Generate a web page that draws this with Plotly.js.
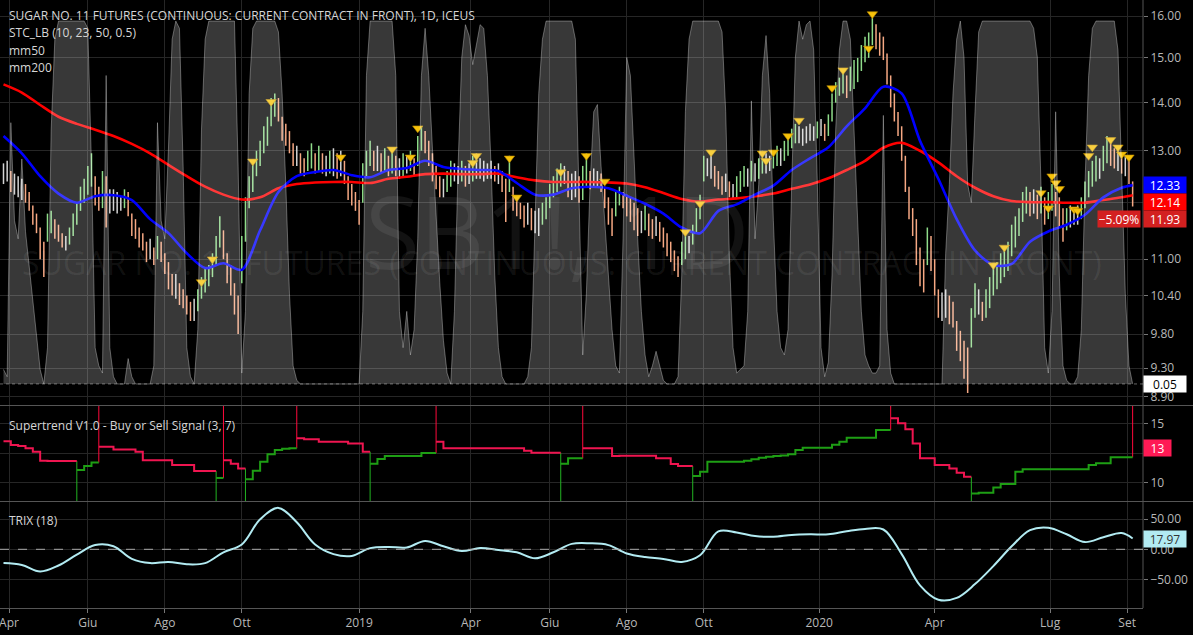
<!DOCTYPE html>
<html><head><meta charset="utf-8">
<script src="https://cdn.plot.ly/plotly-3.0.1.min.js"></script>
<style>html,body{margin:0;padding:0;background:#000;}#chart{width:1193px;height:635px;}</style>
</head><body><div id="chart"></div>
<script>
// ---------- DATA ----------
const tickLabels = ["Apr","Giu","Ago","Ott","2019","Apr","Giu","Ago","Ott","2020","Apr","Lug","Set"];
const tickDays   = [0,43,85,127,191,252,295,337,379,442,505,568,610]; // trading-day index of month starts
const barStartDay = -3, barStepDays = 2;   // one bar per two trading days

const hi = [
12.75,12.8,12.6,12.55,12.5,12.45,12.35,12.2,11.95,11.8,
11.55,11.3,11.8,11.85,11.7,11.6,11.45,11.4,11.55,11.8,
12.0,12.3,12.45,12.7,12.95,12.5,12.3,12.6,12.5,12.25,
12.25,12.2,12.1,12.25,12.2,11.8,11.7,11.55,11.45,11.3,
11.35,11.2,11.4,11.3,11.1,10.95,10.75,10.75,10.6,10.5,
10.4,10.3,10.35,10.5,10.7,10.85,10.9,11.1,11.4,11.75,
11.5,11.1,10.9,10.6,10.4,11.4,12.1,12.5,12.8,13.0,
13.2,13.5,13.7,14.1,14.2,14.1,13.7,13.55,13.4,13.15,
13.1,12.95,12.85,13.0,13.15,12.95,13.1,12.95,12.9,13.0,
13.05,12.95,13.0,12.8,12.5,12.35,12.2,12.05,12.75,13.0,
13.2,13.0,13.1,12.95,13.05,12.9,13.0,12.9,12.85,12.95,
12.9,13.0,12.85,13.3,13.5,13.4,13.2,12.95,12.7,12.5,
12.45,12.6,12.8,12.75,12.7,12.8,12.7,12.75,12.9,12.95,
12.85,12.8,12.75,12.8,12.7,12.75,12.6,12.45,12.9,12.3,
12.1,12.0,11.95,12.0,11.9,11.85,11.9,12.0,12.1,12.35,
12.5,12.65,12.75,12.7,12.6,12.55,12.6,12.5,12.7,12.95,
12.6,12.65,12.6,12.55,12.3,12.1,11.9,12.2,12.3,12.2,
12.15,12.1,12.0,11.9,11.85,11.95,11.8,11.7,11.75,11.65,
11.55,11.45,11.3,11.15,11.05,11.3,11.5,11.4,11.6,11.9,
12.15,12.9,12.85,12.9,12.7,12.6,12.5,12.55,12.4,12.35,
12.5,12.6,12.7,12.65,12.8,12.75,12.85,13.0,12.95,12.9,
13.0,13.1,13.05,13.2,13.3,13.45,13.55,13.5,13.45,13.5,
13.55,13.5,13.6,13.65,13.55,13.75,14.2,14.45,14.55,14.7,
14.6,14.8,14.95,15.0,15.3,15.5,15.6,15.95,15.8,15.6,
15.5,15.1,14.6,14.2,13.8,13.5,12.9,12.3,11.9,11.7,
11.2,11.0,11.55,11.4,11.0,10.5,10.45,10.5,10.4,10.3,
10.0,9.85,9.7,9.6,10.2,10.6,10.5,10.3,10.5,10.7,
10.9,10.95,11.1,11.15,11.3,11.6,11.75,11.9,12.2,12.3,
12.2,12.25,12.15,12.3,12.1,12.2,12.35,12.2,12.1,11.9,
11.9,11.95,11.9,11.95,12.1,12.4,12.6,12.8,12.9,12.85,
13.1,13.3,13.2,13.05,13.1,12.95,12.9,12.8,12.4];
const lo = [
12.35,12.4,12.2,12.15,12.1,12.05,12.0,11.85,11.6,11.45,
11.0,10.7,11.3,11.45,11.35,11.3,11.2,11.15,11.25,11.4,
11.6,11.85,12.0,12.15,12.3,11.95,11.85,11.9,11.55,11.8,
11.85,11.8,11.85,11.9,11.75,11.4,11.35,11.2,11.15,10.95,
11.0,10.9,11.0,10.95,10.75,10.5,10.4,10.35,10.25,10.2,
10.1,10.0,10.0,10.15,10.35,10.45,10.55,10.7,10.9,11.2,
11.0,10.6,10.4,10.1,9.8,10.6,11.3,11.9,12.2,12.5,
12.7,12.95,13.1,13.5,13.7,13.6,13.2,13.1,12.95,12.7,
12.7,12.55,12.5,12.6,12.65,12.55,12.6,12.55,12.5,12.55,
12.5,12.45,12.5,12.35,12.05,11.95,11.85,11.6,12.0,12.5,
12.7,12.6,12.6,12.55,12.6,12.5,12.55,12.5,12.45,12.5,
12.55,12.6,12.5,12.7,13.0,12.95,12.7,12.4,12.25,12.1,
12.1,12.2,12.3,12.4,12.35,12.4,12.3,12.35,12.4,12.45,
12.45,12.4,12.45,12.45,12.4,12.35,12.2,11.65,12.2,11.85,
11.75,11.7,11.55,11.6,11.5,11.45,11.4,11.6,11.7,11.9,
12.1,12.2,12.3,12.35,12.1,12.05,12.1,12.0,12.05,12.3,
12.25,12.3,12.3,12.2,11.9,11.6,11.4,11.75,11.95,11.9,
11.75,11.65,11.5,11.4,11.45,11.5,11.4,11.35,11.4,11.3,
11.2,11.05,10.95,10.8,10.7,10.9,11.0,11.1,11.25,11.45,
11.7,12.4,12.5,12.45,12.3,12.25,12.15,12.2,12.1,12.05,
12.1,12.2,12.3,12.3,12.4,12.4,12.45,12.55,12.55,12.6,
12.65,12.7,12.7,12.8,12.9,13.05,13.15,13.15,13.1,13.15,
13.2,13.2,13.25,13.3,13.2,13.3,13.6,14.0,14.15,14.2,
14.1,14.25,14.3,14.45,14.7,14.9,15.0,15.3,15.2,15.05,
14.95,14.4,13.9,13.6,13.3,12.8,12.2,11.7,11.4,10.9,
10.55,10.45,10.9,10.8,10.4,10.05,10.0,10.05,9.95,9.9,
9.55,9.4,9.15,8.95,9.6,10.05,10.1,10.0,10.05,10.2,
10.4,10.5,10.6,10.7,10.8,11.05,11.2,11.4,11.65,11.8,
11.75,11.8,11.7,11.8,11.6,11.7,11.85,11.75,11.55,11.3,
11.5,11.55,11.6,11.6,11.7,11.9,12.1,12.3,12.4,12.45,
12.6,12.75,12.7,12.65,12.6,12.55,12.5,12.35,11.93];

// STC_LB oscillator, one value per bar
const stc = [
4,2,72,45,40,62,42,32,22,12,
4,0,10,70,95,100,100,100,100,100,
100,100,100,98,60,10,5,3,85,10,
2,0,0,0,7,2,0,0,0,0,
0,5,72,45,40,65,95,100,98,60,
10,2,0,15,70,95,100,100,100,100,
100,100,100,100,60,3,20,80,98,100,
100,100,100,100,100,97,80,55,25,5,
1,0,0,0,0,0,0,0,0,0,
0,0,0,0,0,0,0,0,20,85,
100,100,100,100,100,100,100,85,20,10,
20,8,15,40,85,98,85,65,45,28,
12,3,0,20,60,90,99,96,88,93,
99,98,85,60,30,10,2,0,0,0,
0,0,0,2,10,45,80,95,100,100,
100,100,100,100,100,100,95,50,8,25,
55,75,77,60,45,30,15,5,3,40,
90,85,60,40,20,8,2,5,9,5,
1,0,0,0,2,30,75,95,100,100,
100,100,100,100,100,100,97,75,35,10,
3,4,5,20,78,40,55,85,96,80,
45,20,10,8,15,55,90,100,95,99,
100,92,55,10,2,6,30,70,92,100,
100,95,70,45,20,8,5,3,3,5,
74,15,3,0,0,0,0,0,0,0,
0,0,0,0,0,0,0,36,55,80,
95,100,90,55,50,75,97,100,100,100,
100,100,100,100,100,100,100,100,100,100,
100,98,90,55,10,3,20,75,30,5,
1,0,0,2,15,55,85,98,100,100,
100,100,100,100,92,60,25,5,0.05];

// moving averages and TRIX, sampled every 5 bars (last sample = last bar)
const maStepBars = 5;
const mm50 = [13.3,12.95,12.5,12.17,12.0,12.12,12.14,12.05,11.7,11.45,11.1,10.85,10.93,10.82,11.5,12.2,12.5,12.58,12.62,12.52,12.48,12.62,12.66,12.8,12.68,12.64,12.62,12.6,12.37,12.15,12.15,12.27,12.3,12.27,12.13,11.98,11.8,11.55,11.45,11.85,11.97,12.15,12.32,12.62,12.85,13.07,13.5,13.88,14.35,14.2,13.2,12.45,11.7,11.15,10.9,10.92,11.3,11.48,11.6,11.78,12.1,12.28,12.33];
const mm200 = [14.4,14.22,13.95,13.7,13.55,13.43,13.3,13.14,12.95,12.72,12.5,12.3,12.15,12.06,12.1,12.27,12.35,12.38,12.39,12.39,12.37,12.45,12.49,12.54,12.55,12.54,12.54,12.55,12.48,12.42,12.39,12.39,12.39,12.38,12.36,12.29,12.18,12.07,12.02,12.06,12.08,12.12,12.17,12.26,12.34,12.46,12.62,12.8,13.06,13.16,13.0,12.77,12.5,12.28,12.12,12.03,12.01,12.01,12.0,12.0,12.05,12.1,12.14];
const trix = [-23,-26,-37,-27,-9,7,5,-16,-23,-21,-25,-23,-5,8,50,69,45,8,-8,-11,2,4,3,14,5,-3,2,-1,-5,-15,-5,9,10,7,-7,-13,-16,-21,-10,30,28,22,21,24,25,25,30,34,33,-8,-60,-84,-81,-58,-28,5,32,36,25,12,20,27,17.97];

// Supertrend, sampled every 2 bars; direction r = sell (red), g = buy (green)
const superStepBars = 2;
const superVals = [
13.5,13.17,13.1,12.9,12.6,11.85,11.83,11.83,11.83,11.83,
11.07,11.4,11.7,13.03,13.03,12.8,12.8,12.8,12.6,11.9,
11.9,11.9,11.9,11.5,11.5,11.5,10.98,10.98,10.98,10.4,
11.9,11.6,11.2,10.3,11.0,11.77,12.4,12.75,12.85,12.9,
13.75,13.65,13.65,13.45,13.45,13.45,13.45,13.3,13.3,12.6,
11.6,12.0,12.25,12.25,12.25,12.25,12.25,12.5,12.5,13.45,
12.9,12.9,12.9,12.9,12.9,12.9,12.9,12.9,12.9,12.9,
12.9,12.7,12.53,12.53,12.53,12.53,11.6,12.05,12.05,12.9,
12.9,12.9,12.9,12.25,12.27,12.27,12.27,12.27,12.27,12.07,
12.07,11.57,11.4,11.4,10.56,10.93,11.77,11.77,11.77,11.77,
11.77,11.85,11.97,12.1,12.19,12.25,12.3,12.4,12.75,12.95,
12.95,12.95,12.95,13.2,13.45,13.79,13.79,13.79,13.79,14.44,
14.44,15.42,15.0,14.5,13.3,12.05,12.05,11.5,11.5,11.2,
10.84,10.5,9.1,9.15,9.15,9.6,9.89,9.89,10.93,11.13,
11.13,11.13,11.13,11.13,11.13,11.13,11.13,11.13,11.5,11.63,
11.63,12.14,12.14,12.14,12.9];
const superDir = "rrrrrrrrrr"+"ggg"+"rrrrrrrrrrrrrrrr"+"g"+"rrr"+"ggggggg"+"rrrrrrrrrr"+"ggggggggg"+
  "rrrrrrrrrrrrrrrrr"+"ggg"+"rrrrrrrrrrrrrrr"+"ggggggggggggggggggggggggggg"+"rrrrrrrrrrr"+
  "gggggggggggggggggggggg"+"r";

// signal triangles (bar number, price)
const sigBars   = [54,57,68,73,92,106,111,113,128,129,138,140,152,159,164,186,190,193,207,208,210,214,217,226,229,236,237,270,273,283,285,286,287,288,292,293,296,297,302,304,305,307];
const sigPrices = [10.62,11.0,12.79,14.02,12.87,13.03,12.87,13.46,12.76,12.9,12.85,12.1,12.58,12.9,12.4,11.47,11.98,12.97,12.95,12.8,12.97,13.3,13.62,14.32,14.72,15.22,16.05,10.9,11.2,12.18,11.9,12.5,12.37,12.26,11.88,11.85,12.9,13.07,13.22,13.07,12.93,12.87];

const lastClose = 11.93, lastChangePct = "\u22125.09%", stcLast = 0.05, superLast = 13, trixLast = 17.97;
const priceTicks = [8.9,9.3,9.8,10.4,11,12,13,14,15,16];

// ---------- BUILD ----------
const nBars = hi.length;
const barDay = k => barStartDay + barStepDays*k;
const W=1193,H=635,mR=50,mB=27,plotH=H-mB;
const py = px => (plotH-px)/plotH;                 // pixel row -> paper y
const d1=[py(405),1], d2=[py(501),py(406)], d3=[0,py(502)];
const r1=[Math.log10(8.786),Math.log10(16.40)], r2=[-5.8,105.8], r3=[8.46,16.46], r4=[-97.8,78.8];

const traces=[];
// STC area
traces.push({type:'scatter',mode:'lines',x:stc.map((v,k)=>barDay(k)),y:stc,fill:'tozeroy',
  fillcolor:'rgba(255,255,255,0.22)',line:{color:'rgba(255,255,255,0.32)',width:1},xaxis:'x',yaxis:'y2',hoverinfo:'skip'});
// price bars
const cls = hi.map((h,k)=>{ if(k===0) return 'w'; const m=(h+lo[k])/2, p=(hi[k-1]+lo[k-1])/2;
  return m-p>0.06?'g':(p-m>0.06?'r':'w'); });
const barColors={g:'#8fdc8a',r:'#f6a883',w:'#d4d4d4'};
['w','g','r'].forEach(c=>{ const x=[],y=[]; for(let k=0;k<nBars;k++){ if(cls[k]===c){x.push(barDay(k),barDay(k),null);y.push(lo[k],hi[k],null);} }
  traces.push({type:'scatter',mode:'lines',x,y,line:{color:barColors[c],width:1.5},xaxis:'x',yaxis:'y',hoverinfo:'skip'}); });
// moving averages
const maX = mm50.map((v,j)=>barDay(Math.min(j*maStepBars,nBars-1)));
traces.push({type:'scatter',mode:'lines',x:maX,y:mm200,line:{color:'#ff0000',width:2.6,shape:'spline',smoothing:0.8},xaxis:'x',yaxis:'y',hoverinfo:'skip'});
traces.push({type:'scatter',mode:'lines',x:maX,y:mm50,line:{color:'#0000ff',width:2.6,shape:'spline',smoothing:0.8},xaxis:'x',yaxis:'y',hoverinfo:'skip'});
// signals
traces.push({type:'scatter',mode:'markers',x:sigBars.map(barDay),y:sigPrices,marker:{symbol:'triangle-down',size:9,color:'#f7c20a',line:{color:'#b88a00',width:0.6}},xaxis:'x',yaxis:'y',hoverinfo:'skip'});
// supertrend
const stX = superVals.map((v,j)=>barDay(j*superStepBars));
const seg={r:{x:[],y:[]},g:{x:[],y:[]}};
for(let j=0;j<superVals.length;j++){ const d=superDir[j]; seg[d].x.push(stX[j]); seg[d].y.push(superVals[j]);
  if(j+1<superVals.length && superDir[j+1]!==d){ seg[d].x.push(stX[j+1],null); seg[d].y.push(superVals[j],null);} }
const spR={x:[],y:[]}, spG={x:[],y:[]};
for(let j=1;j<superVals.length;j++){ if(superDir[j]!==superDir[j-1]){ if(superDir[j]==='r'){spR.x.push(stX[j],stX[j],null);spR.y.push(superVals[j-1],r3[1],null);} else {spG.x.push(stX[j],stX[j],null);spG.y.push(superVals[j-1],r3[0],null);} } }
traces.push({type:'scatter',mode:'lines',x:spR.x,y:spR.y,line:{color:'#ff0a3c',width:1},xaxis:'x',yaxis:'y3',hoverinfo:'skip'});
traces.push({type:'scatter',mode:'lines',x:spG.x,y:spG.y,line:{color:'#22b422',width:1},xaxis:'x',yaxis:'y3',hoverinfo:'skip'});
traces.push({type:'scatter',mode:'lines',x:seg.r.x,y:seg.r.y,line:{color:'#ef1550',width:2,shape:'hv'},xaxis:'x',yaxis:'y3',hoverinfo:'skip'});
traces.push({type:'scatter',mode:'lines',x:seg.g.x,y:seg.g.y,line:{color:'#1e9e14',width:2,shape:'hv'},xaxis:'x',yaxis:'y3',hoverinfo:'skip'});
// TRIX
traces.push({type:'scatter',mode:'lines',x:trix.map((v,j)=>barDay(Math.min(j*maStepBars,nBars-1))),y:trix,line:{color:'#b2ebf2',width:2,shape:'spline',smoothing:1},xaxis:'x',yaxis:'y4',hoverinfo:'skip'});

const F="'Open Sans', sans-serif";
const tickFont={family:F,size:12,color:'#b8b8b8'};
const grid='#262626';
const yBase={side:'right',showgrid:true,gridcolor:grid,zeroline:false,ticks:'outside',ticklen:4,tickcolor:'#777',tickfont:tickFont,fixedrange:true,anchor:'x',showline:false,ticklabeloverflow:'allow'};
const layout={width:W,height:H,margin:{l:0,r:mR,t:0,b:mB},paper_bgcolor:'#000',plot_bgcolor:'#000',showlegend:false,
  xaxis:{range:[-4.91,618.65],domain:[0,1],anchor:'y4',tickvals:tickDays,ticktext:tickLabels,showgrid:true,gridcolor:grid,zeroline:false,
    ticks:'outside',ticklen:4,tickcolor:'#777',tickfont:tickFont,showline:true,linecolor:'#555',linewidth:1,ticklabeloverflow:'allow'},
  yaxis:Object.assign({},yBase,{domain:d1,type:'log',range:r1,tickvals:priceTicks,ticktext:priceTicks.map(v=>v===12?'':v.toFixed(2))}),
  yaxis2:{overlaying:'y',range:r2,visible:false,fixedrange:true,anchor:'x'},
  yaxis3:Object.assign({},yBase,{domain:d2,range:r3,tickvals:[10,12.5,15],ticktext:['10','','15']}),
  yaxis4:Object.assign({},yBase,{domain:d3,range:r4,tickvals:[-50,0,50],ticktext:['\u221250.00','0.00','50.00']}),
  shapes:[
    {type:'line',xref:'paper',yref:'paper',x0:0,x1:1.05,y0:py(405.5),y1:py(405.5),line:{color:'#555',width:1}},
    {type:'line',xref:'paper',yref:'paper',x0:0,x1:1.05,y0:py(501.5),y1:py(501.5),line:{color:'#555',width:1}},
    {type:'line',xref:'paper',yref:'paper',x0:1,x1:1,y0:0,y1:1,line:{color:'#555',width:1}},
    {type:'line',xref:'paper',yref:'y',x0:0,x1:1,y0:Math.log10(lastClose),y1:Math.log10(lastClose),line:{color:'rgba(255,70,70,0.8)',width:1,dash:'dot'}},
    {type:'line',xref:'paper',yref:'y2',x0:0,x1:1,y0:0,y1:0,line:{color:'rgba(200,200,200,0.5)',width:1,dash:'dot'}},
    {type:'line',xref:'paper',yref:'y4',x0:0,x1:1,y0:0,y1:0,line:{color:'#aaa',width:1,dash:'dash'}}
  ],
  annotations:[]
};
const A=layout.annotations;
// watermarks
A.push({xref:'paper',yref:'paper',x:557/1143,y:py(160),text:'SB1!, 1D',showarrow:false,font:{family:F,size:100,color:'rgba(255,255,255,0.07)'}});
A.push({xref:'paper',yref:'paper',x:562/1143,y:py(262),text:'SUGAR NO. 11 FUTURES (CONTINUOUS: CURRENT CONTRACT IN FRONT)',showarrow:false,font:{family:F,size:32,color:'rgba(255,255,255,0.07)'}});
// legends
const leg=(t,y)=>A.push({xref:'paper',yref:'paper',x:0,xshift:7,y:py(y),xanchor:'left',yanchor:'middle',text:t,showarrow:false,font:{family:F,size:12,color:'#d6d6d6'}});
leg('SUGAR NO. 11 FUTURES (CONTINUOUS: CURRENT CONTRACT IN FRONT), 1D, ICEUS',16);
leg('STC_LB (10, 23, 50, 0.5)',33); leg('mm50',50); leg('mm200',67);
leg('Supertrend V1.0 - Buy or Sell Signal (3, 7)',425); leg('TRIX (18)',520);
// right-axis value labels
const lab=(t,yref,y,bg,fg,yshift,w)=>A.push({xref:'paper',yref,x:1,xanchor:'left',xshift:0,y,yshift:yshift||0,text:t,showarrow:false,bgcolor:bg,
  font:{family:F,size:12,color:fg},width:w||40,height:14,borderpad:1,align:'center'});
lab(mm50[mm50.length-1].toFixed(2),'y',Math.log10(mm50[mm50.length-1]),'#0000ff','#fff',0);
lab(mm200[mm200.length-1].toFixed(2),'y',Math.log10(mm200[mm200.length-1]),'#ff0000','#fff',-7);
lab(lastClose.toFixed(2),'y',Math.log10(lastClose),'#d32020','#fff',-12);
A.push({xref:'paper',yref:'y',x:1,xanchor:'right',xshift:-2,y:Math.log10(lastClose),yshift:-12,text:lastChangePct,showarrow:false,bgcolor:'#d32020',
  font:{family:F,size:12,color:'#fff'},width:40,height:14,borderpad:1});
lab(stcLast.toFixed(2),'y2',stcLast,'#ffffff','#000',0);
lab(String(superLast),'y3',12.9,'#ff1a55','#fff',0,25);
lab(trixLast.toFixed(2),'y4',trixLast,'#b2ebf2','#333',0);

Plotly.newPlot('chart',traces,layout,{staticPlot:true,displayModeBar:false});
</script></body></html>
